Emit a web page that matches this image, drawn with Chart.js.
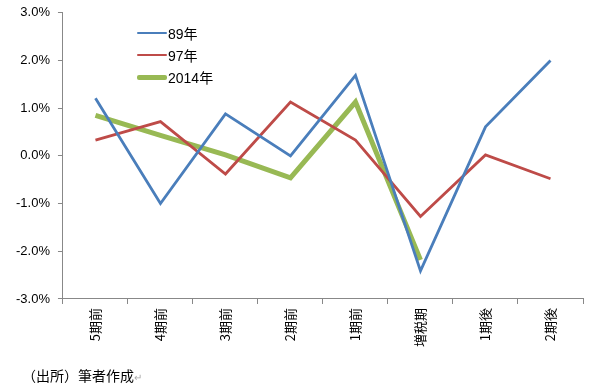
<!DOCTYPE html>
<html>
<head>
<meta charset="utf-8">
<script src="https://cdn.jsdelivr.net/npm/chart.js@4"></script>
<style>
  body { margin: 0; background: #fff; overflow: hidden; }
  #wrap { position: relative; width: 597px; height: 391px; overflow: hidden; }
  #myChart { position: absolute; left: 0; top: -3px; }
  #legend { position: absolute; left: 137px; top: 22px; font: 14px "Liberation Sans", "Noto Sans CJK JP", sans-serif; color: #000; }
  .row { height: 22px; display: flex; align-items: center; }
  .swatch { width: 30px; margin-right: 1px; border-radius: 2px; }
  #note { position: absolute; left: 22px; top: 365px; font: 14px "Noto Sans CJK JP", sans-serif; color: #000; }
  #note span { color: #aaa; font-size: 10px; }
</style>
</head>
<body>
<div id="wrap">
  <canvas id="myChart" width="597" height="394"></canvas>
  <div id="legend"></div>
  <div id="note">（出所）筆者作成<span>↵</span></div>
</div>
<script>
var periods = ['5期前', '4期前', '3期前', '2期前', '1期前', '増税期', '1期後', '2期後'];
var seriesNames = ['89年', '97年', '2014年'];
var values89 = [1.21, -1.0, 0.88, 0.0, 1.69, -2.41, 0.61, 2.0];
var values97 = [0.33, 0.72, -0.38, 1.13, 0.33, -1.27, 0.02, -0.48];
var values2014 = [0.85, 0.43, 0.02, -0.46, 1.13, -2.18, null, null];
var colors = ['#4a7ebb', '#be4b48', '#98b954'];
var widths = [2.8, 2.8, 5];

var allValues = [values89, values97, values2014];
var datasets = [];
for (var i = 0; i < seriesNames.length; i++) {
  datasets.push({
    label: seriesNames[i],
    data: allValues[i],
    borderColor: colors[i],
    backgroundColor: colors[i],
    borderWidth: widths[i],
    pointRadius: 0,
    tension: 0,
    spanGaps: false
  });
}

// legend inside the plot, built from the datasets
var legendHtml = '';
for (var i = 0; i < datasets.length; i++) {
  legendHtml += '<div class="row"><div class="swatch" style="height:' + widths[i] + 'px;background:' + colors[i] + '"></div>' + seriesNames[i] + '</div>';
}
document.getElementById('legend').innerHTML = legendHtml;

var myChart = new Chart(document.getElementById('myChart'), {
  type: 'line',
  data: {
    labels: periods,
    datasets: datasets
  },
  options: {
    responsive: false,
    animation: false,
    layout: { padding: { left: 8, right: 14, top: 2, bottom: 40 } },
    plugins: {
      legend: { display: false },
      tooltip: { enabled: false }
    },
    scales: {
      x: {
        offset: true,
        border: { color: '#888', width: 1 },
        grid: { offset: true, drawOnChartArea: false, tickLength: 5, color: '#888' },
        ticks: {
          minRotation: 90,
          maxRotation: 90,
          color: '#000',
          padding: 4,
          font: { family: '"Noto Sans CJK JP", sans-serif', size: 13 }
        }
      },
      y: {
        min: -3,
        max: 3,
        border: { color: '#888', width: 1 },
        grid: { drawOnChartArea: false, tickLength: 5, color: '#888' },
        ticks: {
          stepSize: 1,
          color: '#000',
          padding: 8,
          font: { family: '"Liberation Sans", sans-serif', size: 13 },
          callback: function (value) { return value.toFixed(1) + '%'; }
        }
      }
    }
  }
});
</script>
</body>
</html>
